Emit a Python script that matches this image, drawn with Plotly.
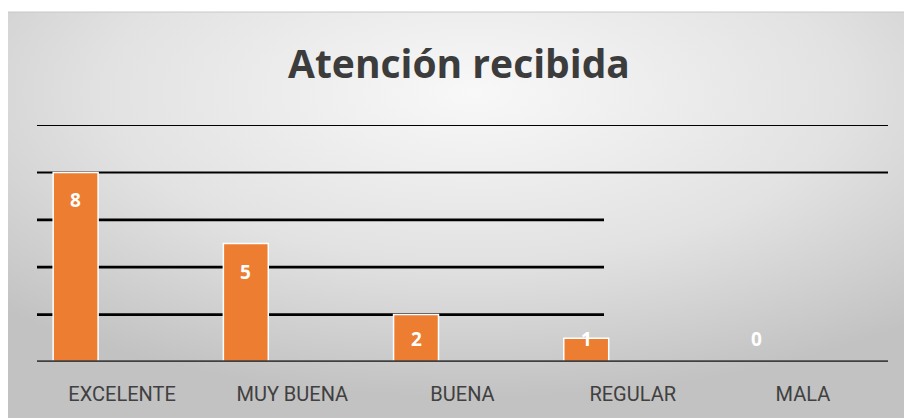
import base64
import plotly.graph_objects as go

# ---- data ----
categories = ["EXCELENTE", "MUY BUENA", "BUENA", "REGULAR", "MALA"]
values = [8, 5, 2, 1, 0]
title_text = "Atención recibida"
grid_short = [2, 4, 6]   # gridlines that stop mid-chart
grid_long = [8, 10]      # gridlines spanning full width

W, H = 904, 418
PL, PR = 37, 888          # plot area left/right in px
Y0, Y10 = 362, 125        # pixel of y=0 and y=10
YMAX = 10
px_per_unit = (Y0 - Y10) / YMAX

# background radial gradient as svg
svg = f'''<svg xmlns="http://www.w3.org/2000/svg" width="{W-8}" height="{H-12}" preserveAspectRatio="none">
<defs><radialGradient id="g" cx="0.52" cy="0.2" r="0.75">
<stop offset="0" stop-color="#f8f8f8"/><stop offset="0.55" stop-color="#e2e2e2"/>
<stop offset="1" stop-color="#c2c2c2"/></radialGradient></defs>
<rect width="100%" height="100%" fill="url(#g)"/></svg>'''
src = "data:image/svg+xml;base64," + base64.b64encode(svg.encode()).decode()

fig = go.Figure()
fig.add_trace(go.Bar(
    x=categories, y=values,
    width=0.264, offset=-0.405,
    marker=dict(color="#ED7D31", line=dict(color="white", width=1.5)),
    hoverinfo="skip",
))

# data labels (inside end, kept at least ~1 unit above axis)
for c, v in zip(categories, values):
    ylab = max(v - 28 / px_per_unit, 0.98)
    fig.add_annotation(x=c, y=ylab, text=f"<b>{v}</b>", showarrow=False,
                       xshift=-0.273 * (PR - PL) / 5, yanchor="middle",
                       font=dict(family="Open Sans", size=19, color="white"))

shapes = [dict(type="line", xref="paper", yref="paper", x0=8 / W, x1=1,
               y0=1 - 12 / H, y1=1 - 12 / H, line=dict(color="#c8c8c8", width=1),
               layer="below")]
for g in grid_short:
    shapes.append(dict(type="line", xref="paper", yref="y", x0=PL / W, x1=604 / W,
                       y0=g, y1=g, line=dict(color="black", width=2.8), layer="below"))
for g in grid_long:
    shapes.append(dict(type="line", xref="paper", yref="y", x0=PL / W, x1=PR / W,
                       y0=g, y1=g, line=dict(color="#000000", width=2), layer="below"))
# category axis line
shapes.append(dict(type="line", xref="paper", yref="y", x0=PL / W, x1=PR / W,
                   y0=0, y1=0, line=dict(color="#404040", width=3.5), layer="above"))

fig.update_layout(
    width=W, height=H,
    margin=dict(l=0, r=0, t=0, b=0),
    paper_bgcolor="white", plot_bgcolor="rgba(0,0,0,0)",
    showlegend=False,
    images=[dict(source=src, xref="paper", yref="paper", x=8 / W, y=1 - 12 / H,
                 sizex=(W - 8) / W, sizey=(H - 12) / H, xanchor="left", yanchor="top",
                 sizing="stretch", layer="below")],
    shapes=shapes,
    xaxis=dict(domain=[PL / W, PR / W], range=[-0.5, 4.5], showgrid=False,
               showline=False, zeroline=False, ticks="outside", ticklen=14,
               tickcolor="rgba(0,0,0,0)",
               tickfont=dict(family="Roboto", size=20, color="#404040"),
               fixedrange=True),
    yaxis=dict(domain=[(H - Y0) / H, (H - Y10) / H], range=[0, YMAX],
               showgrid=False, zeroline=False, showticklabels=False, fixedrange=True),
    annotations=list(fig.layout.annotations) + [
        dict(text=f"<b>{title_text}</b>", xref="paper", yref="paper",
             x=459 / W, y=1 - 62 / H, showarrow=False, xanchor="center", yanchor="middle",
             font=dict(family="Open Sans", size=39, color="#3c3c3c"))
    ],
)

fig.write_html("out.html", config={"displayModeBar": False},
               post_script="document.body.style.margin='0';")
